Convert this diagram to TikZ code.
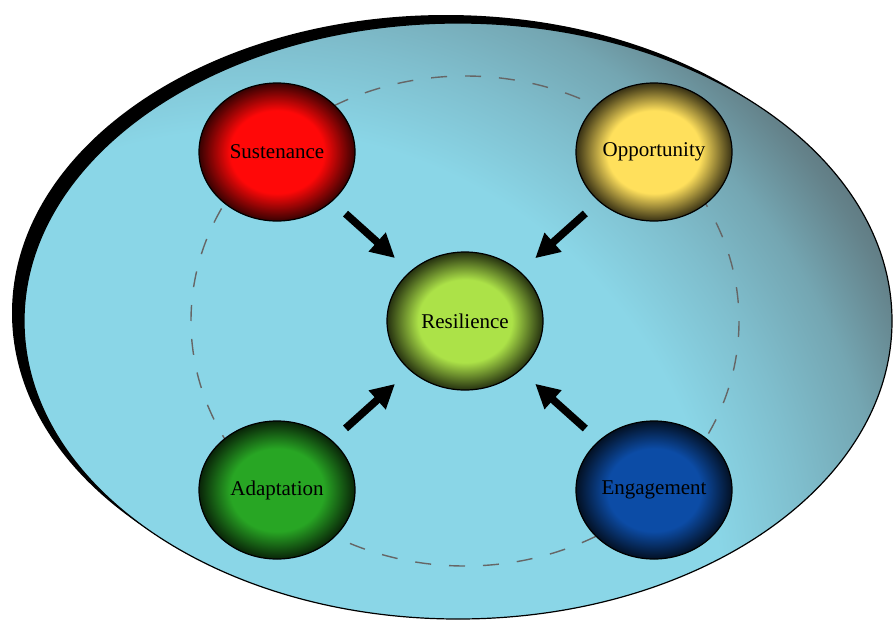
\documentclass[tikz,border=0pt]{standalone}
\usepackage{fontspec}
\setmainfont{Liberation Serif}
\usetikzlibrary{arrows.meta,shapes.geometric}

\definecolor{skyA}{RGB}{138,214,231}
\definecolor{skyB}{RGB}{127,190,205}
\definecolor{skyC}{RGB}{116,166,178}
\definecolor{skyD}{RGB}{100,130,138}
\definecolor{skyE}{RGB}{84,98,104}
\definecolor{sustred}{RGB}{255,8,8}
\definecolor{oppyellow}{RGB}{255,224,92}
\definecolor{reslime}{RGB}{172,226,72}
\definecolor{adagreen}{RGB}{40,166,36}
\definecolor{engblue}{RGB}{12,76,166}
\colorlet{ballcol}{white}

\pgfdeclareradialshading{sky}{\pgfpoint{0bp}{0bp}}{color(0bp)=(skyA); color(14.7bp)=(skyA); color(17.5bp)=(skyB); color(20bp)=(skyC); color(22.2bp)=(skyD); color(24.7bp)=(skyE); color(50bp)=(skyE)}
\pgfdeclareradialshading[ballcol]{ball}{\pgfpoint{0bp}{0bp}}{color(0bp)=(ballcol); color(15bp)=(ballcol); color(25bp)=(ballcol!22!black); color(50bp)=(ballcol!22!black)}

\begin{document}
\begin{tikzpicture}[x=0.5pt, y=-0.5pt, font=\fontsize{10.5}{12}\selectfont,
  ball/.style={ellipse, draw=black, line width=0.6pt, minimum width=78pt, minimum height=69pt, inner sep=0pt, /utils/exec={\colorlet{ballcol}{#1}}, shade, shading=ball},
  push/.style={line width=3.8pt, -{Triangle[length=12pt,width=12pt]}, shorten <=9pt, shorten >=10pt}]
  \useasboundingbox (0,0) rectangle (894,622);
  % outer world
  \fill[black] (446,313) ellipse [x radius=434, y radius=298];
  \begin{scope}
    \clip (458,321) ellipse [x radius=434, y radius=298];
    \shade[shading=sky] (250,600) circle [radius=800];
  \end{scope}
  \draw[line width=0.6pt] (458,321) ellipse [x radius=434, y radius=298];
  \draw[black!60, line width=0.7pt, dash pattern=on 8pt off 9pt] (465,321) ellipse [x radius=274, y radius=245];
  % the four and the middle
  \node[ball=sustred] (sus) at (277,152) {Sustenance};
  \node[ball=oppyellow] (opp) at (654,152) {Opportunity};
  \node[ball=reslime] (res) at (465,321) {Resilience};
  \node[ball=adagreen] (ada) at (277,490) {Adaptation};
  \node[ball=engblue] (eng) at (654,490) {Engagement};
  \draw[push] (sus) -- (res);
  \draw[push] (opp) -- (res);
  \draw[push] (ada) -- (res);
  \draw[push] (eng) -- (res);
\end{tikzpicture}
\end{document}
